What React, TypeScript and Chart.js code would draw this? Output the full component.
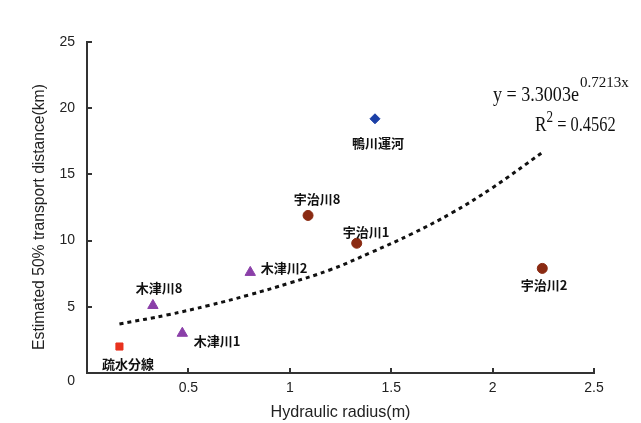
import React, { useEffect, useRef } from "react";
import { Chart, registerables } from "chart.js";

Chart.register(...registerables);

// ---- data ----
const siteNames = ["疏水分線", "木津川8", "木津川1", "木津川2", "宇治川8", "宇治川1", "宇治川2", "鴨川運河"];
const hydraulicRadius = [0.16, 0.325, 0.47, 0.805, 1.09, 1.33, 2.245, 1.42];
const transportDistance = [2.0, 5.1, 3.0, 7.6, 11.9, 9.8, 7.9, 19.2];

// trendline (y = 3.3003e^0.7213x)
const trendX = [0.16, 0.4, 0.6, 0.8, 1.0, 1.2, 1.4, 1.6, 1.8, 2.0, 2.24];
const trendY = [3.7, 4.4, 5.1, 5.9, 6.8, 7.8, 9.1, 10.5, 12.1, 14.0, 16.6];

const xTicks = [0.5, 1, 1.5, 2, 2.5];
const yTicks = [0, 5, 10, 15, 20, 25];

const equationMain = "y = 3.3003e";
const equationExp = "0.7213x";
const r2Label = "R";
const r2Sup = "2";
const r2Value = " = 0.4562";
const xTitle = "Hydraulic radius(m)";
const yTitle = "Estimated 50% transport distance(km)";

// ---- styles ----
const pointStyles = ["rect", "triangle", "triangle", "triangle", "circle", "circle", "circle", "rectRot"];
const pointColors = ["#e8321e", "#8a3fa8", "#8a3fa8", "#8a3fa8", "#8a2a12", "#8a2a12", "#8a2a12", "#1b3fa6"];
const pointRadii = [5, 6, 6, 6, 5, 5, 5, 5];
const labelPos: [number, number][] = [
  [128, 364], [159, 288], [217, 341], [284, 268], [317, 199], [366, 232], [544, 285], [378, 143],
];

const overlayPlugin = {
  id: "overlay",
  afterDraw(chart: any) {
    const ctx = chart.ctx as CanvasRenderingContext2D;
    const xs = chart.scales.x;
    const ys = chart.scales.y;
    const area = chart.chartArea;
    ctx.save();
    // inside tick marks
    ctx.strokeStyle = "#333";
    ctx.lineWidth = 2;
    ctx.beginPath();
    yTicks.forEach((v) => {
      const py = Math.round(ys.getPixelForValue(v));
      ctx.moveTo(area.left, py);
      ctx.lineTo(area.left + 5, py);
    });
    xTicks.forEach((v) => {
      const px = Math.round(xs.getPixelForValue(v));
      ctx.moveTo(px, area.bottom);
      ctx.lineTo(px, area.bottom - 5);
    });
    ctx.stroke();

    // tick labels
    ctx.fillStyle = "#222";
    ctx.font = "14px 'Liberation Sans', Arial, sans-serif";
    ctx.textAlign = "right";
    ctx.textBaseline = "middle";
    yTicks.forEach((v) => {
      const py = ys.getPixelForValue(v);
      ctx.fillText(String(v), area.left - 12, v === 0 ? py + 8 : py);
    });
    ctx.textAlign = "center";
    xTicks.forEach((v) => {
      const px = xs.getPixelForValue(v);
      ctx.fillText(String(v), px, area.bottom + 15);
    });

    // axis titles
    ctx.font = "17px 'Liberation Sans', Arial, sans-serif";
    ctx.save();
    ctx.translate((area.left + area.right) / 2, 412);
    ctx.scale(0.95, 1);
    ctx.fillText(xTitle, 0, 0);
    ctx.restore();
    ctx.save();
    ctx.translate(40, 217);
    ctx.rotate(-Math.PI / 2);
    ctx.font = "16px 'Liberation Sans', Arial, sans-serif";
    ctx.scale(0.98, 1);
    ctx.fillText(yTitle, 0, 0);
    ctx.restore();

    // point labels
    ctx.font = "bold 13px 'Noto Sans CJK JP', sans-serif";
    ctx.fillStyle = "#111";
    siteNames.forEach((n, i) => {
      ctx.fillText(n, labelPos[i][0], labelPos[i][1]);
    });

    // equation
    ctx.fillStyle = "#111";
    ctx.textAlign = "left";
    ctx.textBaseline = "alphabetic";
    ctx.save();
    ctx.translate(493, 101);
    ctx.scale(0.86, 1);
    ctx.font = "21px 'Liberation Serif', 'Times New Roman', serif";
    ctx.fillText(equationMain, 0, 0);
    const w1 = ctx.measureText(equationMain).width;
    ctx.restore();
    ctx.font = "15px 'Liberation Serif', 'Times New Roman', serif";
    ctx.fillText(equationExp, 493 + w1 * 0.86 + 1, 87);

    ctx.save();
    ctx.translate(535, 131);
    ctx.scale(0.82, 1);
    ctx.font = "21px 'Liberation Serif', 'Times New Roman', serif";
    ctx.fillText(r2Label, 0, 0);
    const wr = ctx.measureText(r2Label).width;
    ctx.font = "16px 'Liberation Serif', 'Times New Roman', serif";
    ctx.fillText(r2Sup, wr, -9);
    const ws = ctx.measureText(r2Sup).width;
    ctx.font = "20px 'Liberation Serif', 'Times New Roman', serif";
    ctx.fillText(r2Value, wr + ws, 0);
    ctx.restore();

    ctx.restore();
  },
};

export default function App() {
  const ref = useRef<HTMLCanvasElement>(null);
  useEffect(() => {
    if (!ref.current) return;
    const chart = new Chart(ref.current, {
      type: "scatter",
      data: {
        datasets: [
          {
            label: "sites",
            data: hydraulicRadius.map((x, i) => ({ x, y: transportDistance[i] })),
            pointStyle: pointStyles as any,
            backgroundColor: pointColors,
            borderColor: pointColors,
            pointRadius: pointRadii,
            borderWidth: 1,
          },
          {
            label: "trend",
            type: "line",
            data: trendX.map((x, i) => ({ x, y: trendY[i] })),
            borderColor: "#111",
            borderWidth: 3,
            borderDash: [4, 4],
            pointRadius: 0,
            tension: 0.4,
            fill: false,
          } as any,
        ],
      },
      options: {
        animation: false,
        responsive: false,
        events: [],
        layout: { padding: { top: 42, right: 47, left: 0, bottom: 0 } },
        plugins: { legend: { display: false }, tooltip: { enabled: false } },
        scales: {
          x: {
            type: "linear",
            min: 0,
            max: 2.5,
            ticks: { display: false, stepSize: 0.5 },
            grid: { display: false },
            border: { display: true, color: "#333", width: 2 },
            afterFit: (s: any) => { s.height = 50; },
          },
          y: {
            type: "linear",
            min: 0,
            max: 25,
            ticks: { display: false, stepSize: 5 },
            grid: { display: false },
            border: { display: true, color: "#333", width: 2 },
            afterFit: (s: any) => { s.width = 87; },
          },
        },
      },
      plugins: [overlayPlugin],
    });
    return () => chart.destroy();
  }, []);
  return (
    <div style={{ position: "fixed", left: 0, top: 0, width: 641, height: 423, background: "#fff" }}>
      <canvas ref={ref} width={641} height={423} style={{ width: 641, height: 423 }} />
    </div>
  );
}
